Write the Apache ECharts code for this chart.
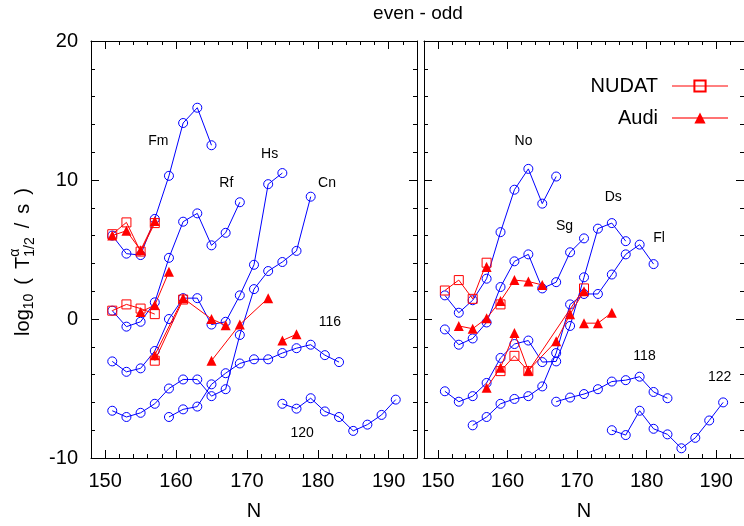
<!DOCTYPE html>
<html>
<head>
<meta charset="utf-8">
<script src="https://cdn.jsdelivr.net/npm/echarts@6/dist/echarts.min.js"></script>
<style>
  html, body { margin: 0; padding: 0; background: #fff; }
  #chart { width: 744px; height: 526px; }
</style>
</head>
<body>
<div id="chart"></div>
<script>
// Alpha-decay half-lives of even-Z / odd-N nuclei, log10(T1/2 / s) versus neutron number N.
const xTicks = [150, 160, 170, 180, 190];
const yTicks = [-10, 0, 10, 20];

// Calculated chains, left panel (Z = 100, 104, 108, 112, 116, 120)
const Fm = [[151, 6.0], [153, 4.7], [155, 4.6], [157, 7.2], [159, 10.3], [161, 14.1], [163, 15.2], [165, 12.5]];
const Rf = [[151, 0.6], [153, -0.55], [155, -0.2], [157, 1.2], [159, 4.4], [161, 7.0], [163, 7.6], [165, 5.3], [167, 6.2], [169, 8.4]];
const Hs = [[151, -3.05], [153, -3.8], [155, -3.55], [157, -2.3], [159, 0.0], [161, 1.5], [163, 1.5], [165, -0.4], [167, -0.2], [169, 1.7], [171, 3.9], [173, 9.7], [175, 10.5]];
const Cn = [[151, -6.6], [153, -7.05], [155, -6.75], [157, -6.1], [159, -5.0], [161, -4.35], [163, -4.35], [165, -5.55], [167, -5.05], [169, -1.15], [171, 2.15], [173, 3.45], [175, 4.1], [177, 4.9], [179, 8.8]];
const Z116 = [[159, -7.05], [161, -6.5], [163, -6.3], [165, -4.7], [167, -3.9], [169, -3.2], [171, -2.9], [173, -2.9], [175, -2.45], [177, -2.1], [179, -1.85], [181, -2.6], [183, -3.1]];
const Z120 = [[175, -6.1], [177, -6.45], [179, -5.7], [181, -6.65], [183, -7.05], [185, -8.05], [187, -7.6], [189, -6.9], [191, -5.8]];

// Calculated chains, right panel (Z = 102, 106, 110, 114, 118, 122)
const No = [[151, 1.7], [153, 0.45], [155, 1.35], [157, 2.9], [159, 6.25], [161, 9.3], [163, 10.8], [165, 8.3], [167, 10.25]];
const Sg = [[151, -0.75], [153, -1.85], [155, -1.4], [157, -0.25], [159, 2.3], [161, 4.15], [163, 4.65], [165, 2.2], [167, 2.65], [169, 4.8], [171, 5.8]];
const Ds = [[151, -5.2], [153, -5.95], [155, -5.55], [157, -4.6], [159, -2.8], [161, -1.8], [163, -1.55], [165, -3.1], [167, -3.05], [169, -0.5], [171, 3.0], [173, 6.5], [175, 6.9], [177, 5.6]];
const Fl = [[155, -7.65], [157, -7.05], [159, -6.1], [161, -5.75], [163, -5.55], [165, -4.85], [167, -2.45], [169, 1.05], [171, 1.8], [173, 1.8], [175, 3.2], [177, 4.65], [179, 5.35], [181, 3.95]];
const Z118 = [[167, -5.95], [169, -5.65], [171, -5.4], [173, -5.05], [175, -4.5], [177, -4.4], [179, -4.15], [181, -5.25], [183, -5.7]];
const Z122 = [[175, -8.0], [177, -8.35], [179, -6.6], [181, -7.9], [183, -8.3], [185, -9.3], [187, -8.55], [189, -7.3], [191, -6.0]];

// Experimental values (NUDAT and Audi evaluations), left panel
const nudatFm = [[151, 6.1], [153, 6.95], [155, 4.85], [157, 6.9]];
const audiFm = [[151, 6.0], [153, 6.35], [155, 4.95], [157, 7.05]];
const nudatRf = [[151, 0.6], [153, 1.05], [155, 0.75], [157, 0.35]];
const audiRf = [[155, 0.5], [157, 1.0], [159, 3.4]];
const nudatHs = [[157, -3.0], [161, 1.4]];
const audiHs = [[157, -2.6], [161, 1.5], [165, 0.0], [167, -0.45]];
const audiCn = [[165, -3.0], [169, -0.4], [173, 1.5]];
const audi116 = [[175, -1.55], [177, -1.1]];

// Experimental values, right panel
const nudatNo = [[151, 2.05], [153, 2.8], [155, 1.45], [157, 4.05]];
const audiNo = [[157, 3.75]];
const nudatSg = [[159, 1.05]];
const audiSg = [[153, -0.5], [155, -0.7], [157, 0.05], [159, 1.3], [161, 2.8], [163, 2.7], [165, 2.45]];
const nudatDs = [[159, -3.75], [161, -2.65], [163, -3.75], [171, 2.2]];
const audiDs = [[157, -4.95], [159, -3.5], [161, -1.0], [163, -3.7], [167, -1.6], [169, 0.35], [171, 2.0]];
const audiFl = [[171, -0.3], [173, -0.3], [175, 0.45]];

// Element / proton-number tags: [N, log10 T, text]
const leftTags = [[157.5, 12.8, 'Fm'], [167.1, 9.8, 'Rf'], [173.2, 11.85, 'Hs'], [181.3, 9.8, 'Cn'], [181.7, -0.2, '116'], [177.8, -8.2, '120']];
const rightTags = [[162.3, 12.8, 'No'], [168.2, 6.7, 'Sg'], [175.2, 8.75, 'Ds'], [181.8, 5.85, 'Fl'], [179.7, -2.7, '118'], [190.5, -4.2, '122']];

const FONT = "'Liberation Sans', Arial, Helvetica, sans-serif";
const BLUE = '#0000ff';
const RED = '#ff0000';
const CLEAR = 'rgba(0,0,0,0)';

// Axes: for every panel a major and a minor x axis at the top and bottom, and y axes left and right.
function xMajor(grid, pos, withLabels) {
  return {
    type: 'value', gridIndex: grid, position: pos, min: 148, max: 194,
    axisLine: { show: true, onZero: false, lineStyle: { color: '#000', width: 1 } },
    axisTick: { show: true, inside: true, length: 8, customValues: xTicks, lineStyle: { color: '#000' } },
    axisLabel: { show: withLabels, customValues: xTicks, margin: 13, fontSize: 20, color: '#000', fontFamily: FONT },
    splitLine: { show: false },
    name: withLabels ? 'N' : '', nameLocation: 'middle', nameGap: 43,
    nameTextStyle: { fontSize: 20, color: '#000', fontFamily: FONT }
  };
}
function xMinor(grid, pos) {
  return {
    type: 'value', gridIndex: grid, position: pos, min: 148, max: 194, interval: 2,
    axisLine: { show: false, onZero: false },
    axisTick: { show: true, inside: true, length: 4, lineStyle: { color: '#000' } },
    axisLabel: { show: false }, splitLine: { show: false }
  };
}
function yAxis(grid, pos, withLabels) {
  return {
    type: 'value', gridIndex: grid, position: pos, min: yTicks[0], max: yTicks[yTicks.length - 1], interval: 10,
    axisLine: { show: true, onZero: false, lineStyle: { color: '#000', width: 1 } },
    axisTick: { show: true, inside: true, length: 8, lineStyle: { color: '#000' } },
    minorTick: { show: true, splitNumber: 5, length: 4, lineStyle: { color: '#000' } },
    axisLabel: { show: withLabels, margin: 13, fontSize: 20, color: '#000', fontFamily: FONT },
    splitLine: { show: false }, minorSplitLine: { show: false }
  };
}

function chain(data, g) {
  return {
    type: 'line', data: data, xAxisIndex: g * 4, yAxisIndex: g * 2,
    symbol: 'circle', symbolSize: 9, showAllSymbol: true,
    itemStyle: { color: CLEAR, borderColor: BLUE, borderWidth: 1 },
    lineStyle: { color: BLUE, width: 1 },
    emphasis: { disabled: true }, silent: true, z: 2
  };
}
function nudat(data, g) {
  return {
    name: 'NUDAT', type: 'line', data: data, xAxisIndex: g * 4, yAxisIndex: g * 2,
    symbol: 'rect', symbolSize: 9, showAllSymbol: true,
    itemStyle: { color: CLEAR, borderColor: RED, borderWidth: 1 },
    lineStyle: { color: RED, width: 1 },
    emphasis: { disabled: true }, silent: true, z: 3
  };
}
function audi(data, g) {
  return {
    name: 'Audi', type: 'line', data: data, xAxisIndex: g * 4, yAxisIndex: g * 2,
    symbol: 'triangle', symbolSize: 10, showAllSymbol: true,
    itemStyle: { color: RED },
    lineStyle: { color: RED, width: 1 },
    emphasis: { disabled: true }, silent: true, z: 4
  };
}

const series = [
  chain(Fm, 0), chain(Rf, 0), chain(Hs, 0), chain(Cn, 0), chain(Z116, 0), chain(Z120, 0),
  chain(No, 1), chain(Sg, 1), chain(Ds, 1), chain(Fl, 1), chain(Z118, 1), chain(Z122, 1),
  nudat(nudatFm, 0), nudat(nudatRf, 0), nudat(nudatHs, 0),
  nudat(nudatNo, 1), nudat(nudatSg, 1), nudat(nudatDs, 1),
  audi(audiFm, 0), audi(audiRf, 0), audi(audiHs, 0), audi(audiCn, 0), audi(audi116, 0),
  audi(audiNo, 1), audi(audiSg, 1), audi(audiDs, 1), audi(audiFl, 1)
];

// Y-axis title: log10 ( T^alpha_1/2 / s ), built from pieces and turned to read upwards.
const measure = document.createElement('canvas').getContext('2d');
function width(text, size) { measure.font = size + 'px ' + FONT; return measure.measureText(text).width; }
const big = 20, small = 14, space = 6;
const pieces = [];
let cursor = 0;
function put(text, size, dy) {
  pieces.push({ type: 'text', x: cursor, y: dy, style: { text: text, font: size + 'px ' + FONT, fill: '#000', align: 'left', verticalAlign: 'middle' } });
  return width(text, size);
}
cursor += put('log', big, 0);
cursor += put('10', small, 6);
cursor += space * 1.5;
cursor += put('(', big, 0) + space * 1.5;
cursor += put('T', big, 0);
const wA = put('\u03b1', small, -8);
const wH = put('1/2', small, 7);
cursor += Math.max(wA, wH) + space * 1.5;
cursor += put('/', big, 0) + space * 1.5;
cursor += put('s', big, 0) + space * 1.5;
cursor += put(')', big, 0);
pieces.forEach(p => { p.x -= cursor / 2; });

const chart = echarts.init(document.getElementById('chart'), null, { renderer: 'canvas' });
chart.setOption({
  animation: false,
  backgroundColor: '#fff',
  grid: [
    { left: 91, top: 41, width: 326, height: 423, containLabel: false },
    { left: 424, top: 41, width: 326, height: 423, containLabel: false }
  ],
  xAxis: [
    xMajor(0, 'bottom', true), xMajor(0, 'top', false), xMinor(0, 'bottom'), xMinor(0, 'top'),
    xMajor(1, 'bottom', true), xMajor(1, 'top', false), xMinor(1, 'bottom'), xMinor(1, 'top')
  ],
  yAxis: [
    yAxis(0, 'left', true), yAxis(0, 'right', false),
    yAxis(1, 'left', false), yAxis(1, 'right', false)
  ],
  legend: {
    data: [
      { name: 'NUDAT', lineStyle: { width: 1 } },
      { name: 'Audi', lineStyle: { width: 2, opacity: 0.55 } }
    ],
    orient: 'vertical', align: 'right', right: 15, top: 76,
    itemWidth: 56, itemHeight: 14, itemGap: 12, padding: 0, selectedMode: false,
    textStyle: { fontSize: 20, color: '#000', fontFamily: FONT, padding: [0, 9, 0, 0] }
  },
  graphic: [
    { id: 'title', type: 'text', x: 418, y: 14, style: { text: 'even - odd', font: '19px ' + FONT, fill: '#000', align: 'center', verticalAlign: 'middle' } },
    { id: 'ytitle', type: 'group', x: 23, y: 262, rotation: Math.PI / 2, children: pieces }
  ],
  series: series
});

// Element tags are placed through each panel's own axes.
const tagGraphics = [];
[[leftTags, 0], [rightTags, 6]].forEach(([list, seriesIndex]) => {
  list.forEach((t, i) => {
    const p = chart.convertToPixel({ seriesIndex: seriesIndex }, [t[0], t[1]]);
    tagGraphics.push({
      id: 'tag' + seriesIndex + '_' + i, type: 'text', x: p[0], y: p[1], z: 10,
      style: { text: t[2], font: '14px ' + FONT, fill: '#000', align: 'center', verticalAlign: 'middle' }
    });
  });
});
chart.setOption({ graphic: tagGraphics });
</script>
</body>
</html>
